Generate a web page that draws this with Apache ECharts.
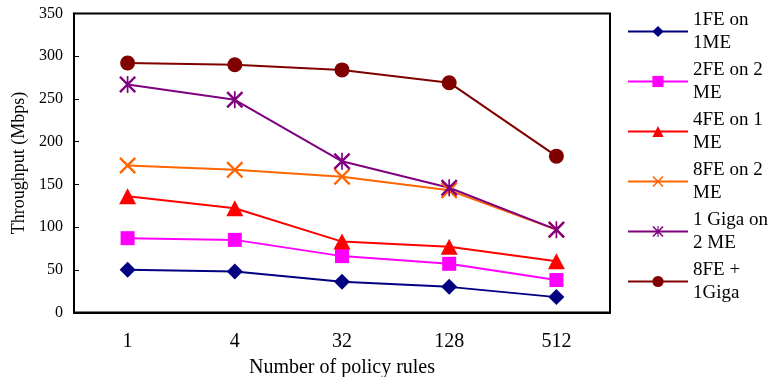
<!DOCTYPE html>
<html>
<head>
<meta charset="utf-8">
<script src="https://cdn.jsdelivr.net/npm/echarts@6/dist/echarts.min.js"></script>
<style>
html,body{margin:0;padding:0;background:#fff;}
#chart{width:770px;height:377px;}
</style>
</head>
<body>
<div id="chart"></div>
<script>
const categories = ['1', '4', '32', '128', '512'];
const seriesNames = ['1FE on 1ME', '2FE on 2 ME', '4FE on 1 ME', '8FE on 2 ME', '1 Giga on 2 ME', '8FE + 1Giga'];
const legendLabels = ['1FE on\n1ME', '2FE on 2\nME', '4FE on 1\nME', '8FE on 2\nME', '1 Giga on\n2 ME', '8FE +\n1Giga'];
const fe1 = [50, 48, 36, 30, 18];
const fe2 = [87, 85, 66, 57, 38];
const fe4 = [136, 122, 83, 77, 60];
const fe8 = [172, 167, 159, 143, 97];
const giga1 = [267, 249, 177, 146, 97];
const fe8giga = [292, 290, 284, 269, 183];
const yTicks = [0, 50, 100, 150, 200, 250, 300, 350];

const colors = ['#000080', '#FF00FF', '#FF0000', '#FF6600', '#800080', '#800000'];
const xPath = 'path://M2,0 L10,8 L18,0 L20,2 L12,10 L20,18 L18,20 L10,12 L2,20 L0,18 L8,10 L0,2 Z';
const starPath = 'path://M2,0 L10,8 L18,0 L20,2 L12,10 L20,18 L18,20 L10,12 L2,20 L0,18 L8,10 L0,2 Z M9,0 L11,0 L11,20 L9,20 Z';
const symbols = ['diamond', 'rect', 'triangle', xPath, starPath, 'circle'];
const sizes = [16, 14, [17, 16], 17, 17, 15];
const values = [fe1, fe2, fe4, fe8, giga1, fe8giga];

const font = 'Liberation Serif';
const chart = echarts.init(document.getElementById('chart'));
chart.setOption({
  animation: false,
  backgroundColor: '#fff',
  grid: { left: 74, right: 160, top: 13.5, bottom: 64.5, outerBoundsMode: 'none', containLabel: false,
    show: true, borderColor: '#000', borderWidth: 2, backgroundColor: 'transparent' },
  legend: {
    orient: 'vertical',
    left: 627,
    top: -3,
    padding: 0,
    itemWidth: 60,
    itemHeight: 14,
    itemGap: -19,
    data: seriesNames,
    formatter: function (name) { return legendLabels[seriesNames.indexOf(name)]; },
    textStyle: { fontFamily: font, fontSize: 19, color: '#000', lineHeight: 23, padding: [23, 0, 0, 0] }
  },
  xAxis: {
    type: 'category',
    data: categories,
    boundaryGap: true,
    axisLine: { lineStyle: { color: '#000', width: 2 } },
    axisTick: { inside: true, length: 5, lineStyle: { color: '#000', width: 1 } },
    axisLabel: { fontFamily: font, fontSize: 20, color: '#000', margin: 19 },
    name: 'Number of policy rules',
    nameLocation: 'middle',
    nameGap: 45,
    nameTextStyle: { fontFamily: font, fontSize: 20, color: '#000' }
  },
  yAxis: {
    type: 'value',
    min: 0, max: 350, interval: 50,
    axisLine: { show: true, lineStyle: { color: '#000', width: 2 } },
    axisTick: { show: true, inside: true, length: 5, lineStyle: { color: '#000', width: 1 } },
    splitLine: { show: false },
    axisLabel: { fontFamily: font, fontSize: 16, color: '#000', margin: 11,
      formatter: function (v) { return yTicks.indexOf(v) >= 0 ? String(v) : ''; } },
    name: 'Throughput (Mbps)',
    nameLocation: 'middle',
    nameGap: 39,
    nameTextStyle: { fontFamily: font, fontSize: 18, color: '#000' }
  },
  series: seriesNames.map(function (n, i) {
    return {
      name: n,
      type: 'line',
      data: values[i],
      symbol: symbols[i],
      symbolSize: sizes[i],
      showAllSymbol: true,
      color: colors[i],
      itemStyle: { color: colors[i] },
      lineStyle: { color: colors[i], width: 2 }
    };
  })
});
</script>
</body>
</html>
